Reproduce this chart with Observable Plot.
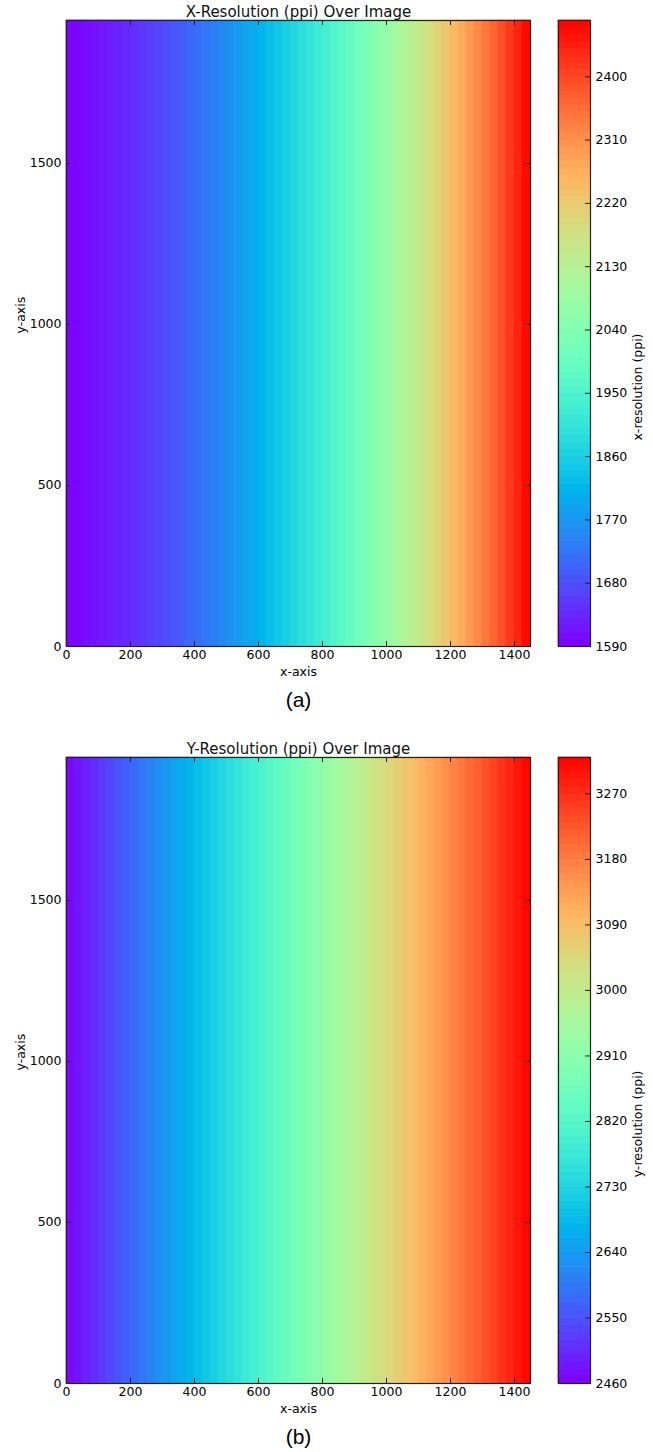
<!DOCTYPE html>
<html>
<head>
<meta charset="utf-8">
<script src="https://cdn.jsdelivr.net/npm/d3@7"></script>
<script src="https://cdn.jsdelivr.net/npm/@observablehq/plot@0.6"></script>
<style>
  html, body { margin: 0; padding: 0; background: #fff; }
  #root { position: relative; width: 653px; height: 1452px; overflow: hidden; }
  .layer { position: absolute; left: 0; }
  svg { overflow: visible; }
</style>
</head>
<body>
<div id="root"></div>
<script>
// ---------- data ----------
const imageWidth = 1450;   // x extent of the image (px)
const imageHeight = 1944;  // y extent of the image (px)
const columnWidth = 25;    // width of each sampled column

// x-resolution (ppi) per 25-px column, left to right
const xResolution = [
  1592, 1597, 1603, 1608, 1614, 1621, 1628, 1635, 1643, 1650,
  1659, 1667, 1676, 1686, 1696, 1706, 1716, 1727, 1739, 1750,
  1762, 1775, 1787, 1800, 1814, 1828, 1842, 1857, 1872, 1887,
  1903, 1919, 1935, 1952, 1969, 1987, 2005, 2023, 2042, 2061,
  2080, 2100, 2120, 2141, 2162, 2183, 2205, 2226, 2249, 2272,
  2295, 2318, 2342, 2366, 2391, 2416, 2441, 2470
];
// y-resolution (ppi) per 25-px column, left to right
const yResolution = [
  2467, 2481, 2494, 2508, 2522, 2536, 2550, 2563, 2577, 2591,
  2605, 2620, 2634, 2648, 2662, 2676, 2691, 2705, 2719, 2734,
  2748, 2763, 2777, 2792, 2806, 2821, 2836, 2851, 2865, 2880,
  2895, 2910, 2925, 2940, 2955, 2970, 2985, 3000, 3016, 3031,
  3046, 3061, 3077, 3092, 3108, 3123, 3139, 3154, 3170, 3185,
  3201, 3217, 3233, 3248, 3264, 3280, 3296, 3314
];

const xTicks = [0, 200, 400, 600, 800, 1000, 1200, 1400];
const yTicks = [0, 500, 1000, 1500];
const xColorbarTicks = [1590, 1680, 1770, 1860, 1950, 2040, 2130, 2220, 2310, 2400];
const yColorbarTicks = [2460, 2550, 2640, 2730, 2820, 2910, 3000, 3090, 3180, 3270];
const xColorDomain = [1590, 2480];
const yColorDomain = [2460, 3320];

// ---------- matplotlib "rainbow" colormap ----------
const clamp = v => Math.max(0, Math.min(1, v));
function mplRainbow(t) {
  const r = clamp(Math.abs(2 * t - 0.5));
  const g = clamp(Math.sin(Math.PI * t));
  const b = clamp(Math.cos(Math.PI * t / 2));
  return `rgb(${Math.round(255 * r)},${Math.round(255 * g)},${Math.round(255 * b)})`;
}

// ---------- layout ----------
const W = 653;
const mTop = 20, mBottom = 68, plotH = 626;
const H = mTop + plotH + mBottom;
const mainLeft = 66, mainRight = 530;
const cbLeft = 558, cbRight = 590;
const tickLen = 5;
const font = "'DejaVu Sans', sans-serif";

function panel(top, values, colorDomain, cbTicks, title, cbLabel, tag) {
  const cols = values.map((v, i) => ({x1: i * columnWidth, x2: Math.min(imageWidth, (i + 1) * columnWidth), v}));
  const color = {type: "linear", domain: colorDomain, interpolate: mplRainbow};
  const plotW = mainRight - mainLeft;

  const main = Plot.plot({
    width: W, height: H,
    marginTop: mTop, marginBottom: mBottom, marginLeft: mainLeft, marginRight: W - mainRight,
    style: {fontFamily: font, fontSize: "12.5px", color: "#000", background: "transparent"},
    x: {domain: [0, imageWidth], axis: null},
    y: {domain: [0, imageHeight], axis: null},
    color,
    marks: [
      Plot.rect(cols, {x1: "x1", x2: "x2", y1: 0, y2: imageHeight, fill: "v", inset: -0.35}),
      Plot.frame({stroke: "#222", strokeWidth: 1.2}),
      Plot.ruleX(xTicks, {x: d => d, insetTop: plotH - tickLen, stroke: "#222"}),
      Plot.ruleX(xTicks, {x: d => d, insetBottom: plotH - tickLen, stroke: "#222"}),
      Plot.ruleY(yTicks, {y: d => d, insetRight: plotW - tickLen, stroke: "#222"}),
      Plot.ruleY(yTicks, {y: d => d, insetLeft: plotW - tickLen, stroke: "#222"}),
      Plot.axisX({ticks: xTicks, tickSize: 0, tickPadding: 4, label: null, tickFormat: d => String(d), fontSize: 12.5}),
      Plot.axisY({ticks: yTicks, tickSize: 0, tickPadding: 5, label: null, tickFormat: d => String(d), fontSize: 12.5}),
      Plot.text([title], {text: d => d, frameAnchor: "top", lineAnchor: "bottom", dy: -4, fontSize: 15, fill: "#111"}),
      Plot.text(["x-axis"], {text: d => d, frameAnchor: "bottom", dy: 29, fontSize: 12.5}),
      Plot.text(["y-axis"], {text: d => d, frameAnchor: "left", dx: -46, rotate: -90, fontSize: 12.5}),
      Plot.text([tag], {text: d => d, frameAnchor: "bottom", dy: 60, fontSize: 21, fontFamily: "'Liberation Sans', Arial, sans-serif"})
    ]
  });

  const step = 10;
  const bands = d3.range(colorDomain[0], colorDomain[1], step);
  const cb = Plot.plot({
    width: W, height: H,
    marginTop: mTop, marginBottom: mBottom, marginLeft: cbLeft, marginRight: W - cbRight,
    style: {fontFamily: font, fontSize: "12.5px", color: "#000", background: "transparent"},
    x: {domain: [0, 1], axis: null},
    y: {domain: colorDomain, axis: null},
    color,
    marks: [
      Plot.rect(bands, {x1: 0, x2: 1, y1: d => d, y2: d => Math.min(colorDomain[1], d + step), fill: d => d + step / 2, inset: -0.35}),
      Plot.frame({stroke: "#222", strokeWidth: 1.2}),
      Plot.ruleY(cbTicks, {y: d => d, insetLeft: (cbRight - cbLeft) - tickLen, stroke: "#222"}),
      Plot.axisY({anchor: "right", ticks: cbTicks, tickSize: 0, tickPadding: 5, label: null, tickFormat: d => String(d), fontSize: 12.5}),
      Plot.text([cbLabel], {text: d => d, frameAnchor: "right", dx: 47, rotate: -90, fontSize: 12.5})
    ]
  });

  for (const el of [main, cb]) {
    el.classList.add("layer");
    el.style.top = top + "px";
    document.getElementById("root").appendChild(el);
  }
}

panel(0, xResolution, xColorDomain, xColorbarTicks, "X-Resolution (ppi) Over Image", "x-resolution (ppi)", "(a)");
panel(737, yResolution, yColorDomain, yColorbarTicks, "Y-Resolution (ppi) Over Image", "y-resolution (ppi)", "(b)");
</script>
</body>
</html>
